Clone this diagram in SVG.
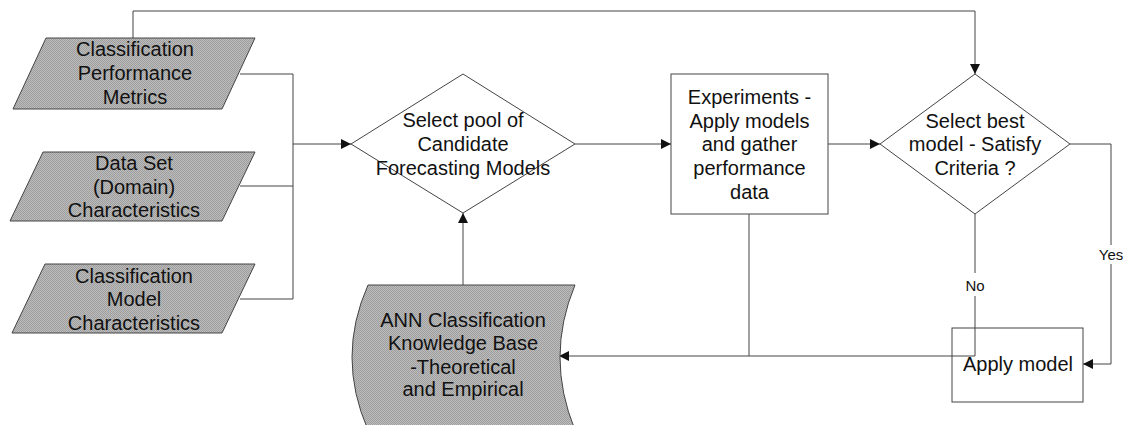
<svg xmlns="http://www.w3.org/2000/svg" width="1126" height="425" viewBox="0 0 1126 425">
  <defs>
    <pattern id="dither" width="2" height="2" patternUnits="userSpaceOnUse">
      <rect width="2" height="2" fill="#bcbcbc"/>
      <rect width="1" height="1" fill="#9e9e9e"/>
      <rect x="1" y="1" width="1" height="1" fill="#9e9e9e"/>
    </pattern>
    <marker id="arrow" viewBox="0 0 10 10" refX="10" refY="5" markerWidth="10" markerHeight="10" markerUnits="userSpaceOnUse" orient="auto">
      <path d="M0,0 L10,5 L0,10 z" fill="#111"/>
    </marker>
  </defs>
  <style>
    .bg { fill: #ffffff; }
    .shaded { fill: url(#dither); stroke: #444; stroke-width: 1; }
    .plain { fill: #ffffff; stroke: #444; stroke-width: 1; }
    .link { fill: none; stroke: #444; stroke-width: 1; }
    .lbl { font-family: "Liberation Sans", Arial, sans-serif; font-size: 20px; fill: #111; text-anchor: middle; dominant-baseline: central; }
    .small { font-family: "Liberation Sans", Arial, sans-serif; font-size: 15px; fill: #111; text-anchor: middle; dominant-baseline: central; }
  </style>
  <rect class="bg" width="1126" height="425"/>

  <g id="connectors">
    <!-- metrics feed the final selection directly -->
    <polyline class="link" points="133,38 133,11 975,11 975,74" marker-end="url(#arrow)"/>
    <!-- three inputs merge into the candidate pool -->
    <polyline class="link" points="240,74 293,74 293,299 240,299"/>
    <line class="link" x1="240" y1="186" x2="293" y2="186"/>
    <line class="link" x1="293" y1="144" x2="351" y2="144" marker-end="url(#arrow)"/>
    <!-- knowledge base up to the pool -->
    <line class="link" x1="463" y1="285" x2="463" y2="213" marker-end="url(#arrow)"/>
    <line class="link" x1="575" y1="144" x2="671" y2="144" marker-end="url(#arrow)"/>
    <line class="link" x1="828" y1="144" x2="880" y2="144" marker-end="url(#arrow)"/>
    <!-- Yes branch -->
    <polyline class="link" points="1070,144 1111,144 1111,245"/>
    <polyline class="link" points="1111,264 1111,364 1083,364" marker-end="url(#arrow)"/>
    <!-- No branch and feedback to the knowledge base -->
    <line class="link" x1="975" y1="214" x2="975" y2="273"/>
    <polyline class="link" points="975,296 975,356 559,356" marker-end="url(#arrow)"/>
    <line class="link" x1="749" y1="214" x2="749" y2="356"/>
    <text class="small" x="1111" y="254">Yes</text>
    <text class="small" x="975" y="285">No</text>
  </g>

  <g id="metrics">
    <polygon class="shaded" points="46,38 255,38 222,109 13,109"/>
    <text class="lbl" x="135" y="49">Classification</text>
    <text class="lbl" x="135" y="73">Performance</text>
    <text class="lbl" x="135" y="97">Metrics</text>
  </g>

  <g id="dataset">
    <polygon class="shaded" points="43,152 255,152 222,221 10,221"/>
    <text class="lbl" x="134" y="163">Data Set</text>
    <text class="lbl" x="134" y="187">(Domain)</text>
    <text class="lbl" x="134" y="210">Characteristics</text>
  </g>

  <g id="model-chars">
    <polygon class="shaded" points="45,264 255,264 222,333 12,333"/>
    <text class="lbl" x="134" y="276">Classification</text>
    <text class="lbl" x="134" y="299">Model</text>
    <text class="lbl" x="134" y="323">Characteristics</text>
  </g>

  <g id="select-pool">
    <polygon class="plain" points="463,74 575,144 463,213 351,144"/>
    <text class="lbl" x="463" y="120">Select pool of</text>
    <text class="lbl" x="463" y="144">Candidate</text>
    <text class="lbl" x="463" y="168">Forecasting Models</text>
  </g>

  <g id="knowledge-base">
    <path class="shaded" d="M368,285 L575,285 Q545,357 575,430 L368,430 Q336,357 368,285 z"/>
    <text class="lbl" x="463" y="320">ANN Classification</text>
    <text class="lbl" x="463" y="343">Knowledge Base</text>
    <text class="lbl" x="463" y="367">-Theoretical</text>
    <text class="lbl" x="463" y="389">and Empirical</text>
  </g>

  <g id="experiments">
    <rect class="plain" x="671" y="74" width="157" height="140"/>
    <text class="lbl" x="749.5" y="97">Experiments -</text>
    <text class="lbl" x="749.5" y="121">Apply models</text>
    <text class="lbl" x="749.5" y="144">and gather</text>
    <text class="lbl" x="749.5" y="168">performance</text>
    <text class="lbl" x="749.5" y="192">data</text>
  </g>

  <g id="select-best">
    <polygon class="plain" points="975,74 1070,144 975,214 880,144"/>
    <text class="lbl" x="975" y="121">Select best</text>
    <text class="lbl" x="975" y="144">model - Satisfy</text>
    <text class="lbl" x="975" y="168">Criteria ?</text>
  </g>

  <g id="apply-model">
    <rect x="952" y="328" width="131" height="74" fill="none" stroke="#444" stroke-width="1"/>
    <text class="lbl" x="1018" y="364">Apply model</text>
  </g>
</svg>
